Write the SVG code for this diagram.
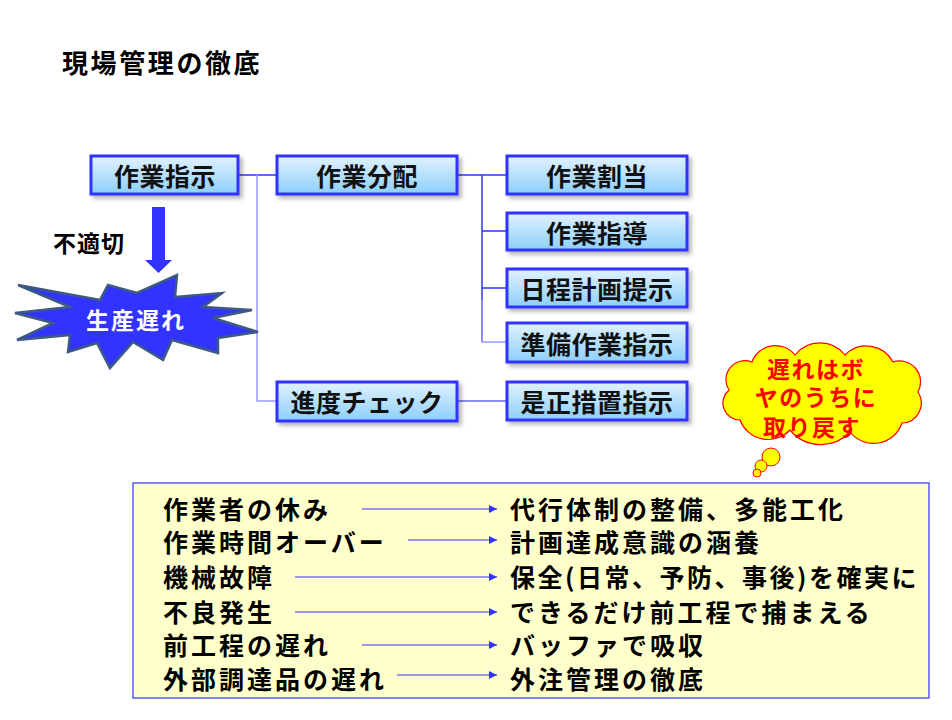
<svg xmlns="http://www.w3.org/2000/svg" width="952" height="720" viewBox="0 0 952 720">
<style>
text{font-family:"Noto Sans CJK JP","Noto Sans CJK SC",sans-serif;font-weight:bold;}
.title{font-size:26px;letter-spacing:2.6px;fill:#000;}
.box rect{fill:url(#bg);stroke:#3333ff;stroke-width:3;filter:url(#sh);}
.box text{font-size:25px;letter-spacing:0.5px;fill:#111;text-anchor:middle;dominant-baseline:central;}
.ln{fill:none;stroke:#3333ff;stroke-width:1.5;}
.lnl{fill:none;stroke:#9999ff;stroke-width:1.5;}
.row{font-size:25px;letter-spacing:3px;fill:#000;dominant-baseline:central;}
.arr{stroke:#3333ff;stroke-width:1.2;marker-end:url(#ah);}
.cl{font-size:23px;letter-spacing:1.5px;fill:#ff0000;text-anchor:middle;dominant-baseline:central;}
</style>
<defs>
<linearGradient id="bg" x1="0" y1="0" x2="0" y2="1">
<stop offset="0" stop-color="#e2f2fd"/>
<stop offset="1" stop-color="#8ccffc"/>
</linearGradient>
<filter id="sh" x="-10%" y="-20%" width="125%" height="160%">
<feDropShadow dx="3" dy="3" stdDeviation="2" flood-color="#000" flood-opacity="0.3"/>
</filter>
<marker id="ah" viewBox="0 0 10 10" refX="10" refY="5" markerWidth="8" markerHeight="8" markerUnits="userSpaceOnUse" orient="auto">
<path d="M0,0 L10,5 L0,10 Z" fill="#3333ff"/>
</marker>
</defs>
<rect width="952" height="720" fill="#ffffff"/>
<text class="title" x="62" y="73">現場管理の徹底</text>

<g id="connectors">
<path class="ln" d="M238,175 H277"/>
<path class="lnl" d="M257,175 V401 H277"/>
<path class="ln" d="M457,175 H507"/>
<path class="ln" d="M482,175 V342"/>
<path class="ln" d="M482,231 H507"/>
<path class="ln" d="M482,288 H507"/>
<path class="lnl" d="M482,300 V342 H507"/>
<path class="ln" d="M457,401 H507" style="stroke:#6666ee"/>
</g>

<g id="n-sagyoshiji" class="box"><rect x="91" y="156" width="147" height="38"/><text x="165" y="175">作業指示</text></g>
<g id="n-sagyobunpai" class="box"><rect x="277" y="156" width="180" height="38"/><text x="367" y="175">作業分配</text></g>
<g id="n-shinchoku" class="box"><rect x="277" y="382" width="180" height="39"/><text x="367" y="401">進度チェック</text></g>
<g id="n-wariate" class="box"><rect x="507" y="156" width="180" height="38"/><text x="597" y="175">作業割当</text></g>
<g id="n-shido" class="box"><rect x="507" y="213" width="180" height="37"/><text x="597" y="231.5">作業指導</text></g>
<g id="n-nittei" class="box"><rect x="507" y="269" width="180" height="38"/><text x="597" y="288">日程計画提示</text></g>
<g id="n-junbi" class="box"><rect x="507" y="323" width="180" height="39"/><text x="597" y="342.5">準備作業指示</text></g>
<g id="n-zesei" class="box"><rect x="507" y="382" width="180" height="38"/><text x="597" y="401">是正措置指示</text></g>

<g id="n-futekisetsu">
<path d="M152,207 H165 V260 H172 L158.5,273 L145,260 H152 Z" fill="#3333ff"/>
<text x="53" y="242" style="font-size:23px;letter-spacing:1px;dominant-baseline:central;fill:#000">不適切</text>
</g>

<g id="n-seisanokure">
<path d="M18,285 L100,300 L108,285 L137,293 L177,275 L175,297 L222,293 L203,307 L252,310 L213,318 L258,332 L218,338 L218,353 L172,340 L163,360 L133,342 L110,368 L97,343 L68,352 L70,335 L17,340 L53,323 L15,313 L70,307 Z" fill="#3333ff" stroke="#3d5a80" stroke-width="2.5" stroke-linejoin="miter"/>
<text x="136" y="319" style="font-size:23px;letter-spacing:2px;fill:#fff;text-anchor:middle;dominant-baseline:central">生産遅れ</text>
</g>

<g id="n-cloud">
<path d="M740,420 A17,17 0 0 1 729,390 A19,19 0 0 1 752,362 A25,25 0 0 1 795,355 A32,32 0 0 1 845,355 A30,30 0 0 1 893,362 A21,21 0 0 1 918,392 A20,20 0 0 1 902,423 A30,30 0 0 1 850,432 A40,40 0 0 1 790,430 A30,30 0 0 1 740,420 Z" fill="#ffff00" stroke="#ff0000" stroke-width="1.2"/>
<circle cx="771" cy="457" r="9" fill="#ffff00" stroke="#ff0000" stroke-width="1"/>
<circle cx="761" cy="466" r="6" fill="#ffff00" stroke="#ff0000" stroke-width="1"/>
<circle cx="757" cy="473" r="4" fill="#ffff00" stroke="#ff0000" stroke-width="1"/>
<text class="cl" x="816" y="368">遅れはボ</text>
<text class="cl" x="816" y="396">ヤのうちに</text>
<text class="cl" x="812" y="426">取り戻す</text>
</g>

<g id="n-table">
<rect x="133" y="483" width="796" height="215" fill="#ffffcc" stroke="#3333ff" stroke-width="1.2"/>
<text class="row" x="163" y="508">作業者の休み</text>
<text class="row" x="163" y="541">作業時間オーバー</text>
<text class="row" x="163" y="576">機械故障</text>
<text class="row" x="163" y="611">不良発生</text>
<text class="row" x="163" y="644">前工程の遅れ</text>
<text class="row" x="163" y="678">外部調達品の遅れ</text>
<text class="row" x="510" y="508">代行体制の整備、多能工化</text>
<text class="row" x="510" y="541">計画達成意識の涵養</text>
<text class="row" x="510" y="576" style="letter-spacing:2.5px">保全(日常、予防、事後)を確実に</text>
<text class="row" x="510" y="611">できるだけ前工程で捕まえる</text>
<text class="row" x="510" y="644">バッファで吸収</text>
<text class="row" x="510" y="678">外注管理の徹底</text>
<line class="arr" x1="362" y1="509" x2="497" y2="509"/>
<line class="arr" x1="408" y1="540" x2="497" y2="540"/>
<line class="arr" x1="295" y1="577" x2="497" y2="577"/>
<line class="arr" x1="295" y1="612" x2="497" y2="612"/>
<line class="arr" x1="362" y1="645" x2="497" y2="645"/>
<line class="arr" x1="397" y1="675" x2="497" y2="675"/>
</g>
</svg>
